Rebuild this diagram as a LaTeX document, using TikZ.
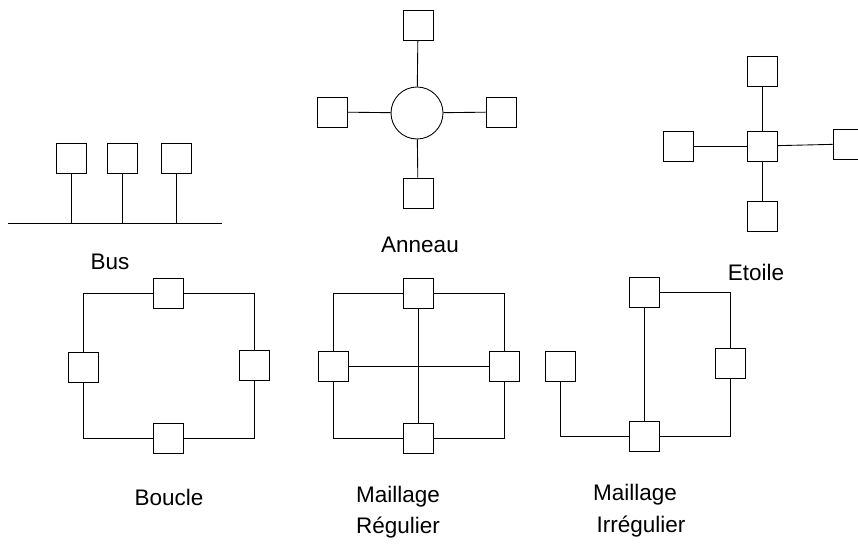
\documentclass[tikz,border=0pt]{standalone}
\usepackage{fontspec}
\setmainfont{Liberation Sans}
\usetikzlibrary{positioning}

\begin{document}
\begin{tikzpicture}[
  x=0.02cm, y=-0.02cm,
  line width=0.5pt,
  stn/.style={draw, minimum size=0.6cm, inner sep=0pt},
  hub/.style={draw, circle, minimum size=1.04cm, inner sep=0pt},
  lbl/.style={font=\fontsize{12.8}{15}\selectfont, inner sep=0pt}
]
\useasboundingbox (0,0) rectangle (858,547);

% Bus
\node[stn] (b1) at (71,158) {};
\node[stn] (b2) at (122,158) {};
\node[stn] (b3) at (176,158) {};
\coordinate (busL) at (8,223);
\coordinate (busR) at (222,223);
\draw (busL) -- (busR);
\draw (b1) -- (b1 |- busL);
\draw (b2) -- (b2 |- busL);
\draw (b3) -- (b3 |- busL);
\node[lbl] (lbus) at (110,262) {Bus};

% Anneau
\node[hub] (ring) at (417,113) {};
\node[stn] (a1) at (418,25) {};
\node[stn] (a2) at (332,112) {};
\node[stn] (a3) at (501,112) {};
\node[stn] (a4) at (418,193) {};
\draw (ring) -- (a1);
\draw (ring) -- (a2);
\draw (ring) -- (a3);
\draw (ring) -- (a4);
\node[lbl] (lann) at (420,245) {Anneau};

% Etoile
\node[stn] (ec) at (762,146) {};
\node[stn] (e1) at (762,71) {};
\node[stn] (e2) at (678,146) {};
\node[stn] (e3) at (848,144) {};
\node[stn] (e4) at (762,216) {};
\draw (ec) -- (e1);
\draw (ec) -- (e2);
\draw (ec) -- (e3);
\draw (ec) -- (e4);
\node[lbl] (leto) at (756,272) {Etoile};

% Boucle
\node[stn] (bt) at (168,293) {};
\node[stn] (bl) at (83,367) {};
\node[stn] (br) at (254,365) {};
\node[stn] (bb) at (168,438) {};
\draw (bt) -| (bl);
\draw (bt) -| (br);
\draw (bb) -| (bl);
\draw (bb) -| (br);
\node[lbl] (lbou) at (169,497) {Boucle};

% Maillage regulier
\node[stn] (mt) at (418,293) {};
\node[stn] (ml) at (333,366) {};
\node[stn] (mr) at (504,366) {};
\node[stn] (mb) at (418,438) {};
\draw (mt) -| (ml);
\draw (mt) -| (mr);
\draw (mb) -| (ml);
\draw (mb) -| (mr);
\draw (mt) -- (mb);
\draw (ml) -- (mr);
\node[lbl] (lmr1) at (398,497) {Maillage};
\node[lbl] (lmr2) at (398,528) {Régulier};

% Maillage irregulier
\node[stn] (it) at (644,292) {};
\node[stn] (il) at (560,366) {};
\node[stn] (ir) at (730,363) {};
\node[stn] (ib) at (644,436) {};
\draw (it) -| (ir);
\draw (ir) |- (ib);
\draw (il) |- (ib);
\draw (it) -- (ib);
\node[lbl] (lmi1) at (635,495) {Maillage};
\node[lbl] (lmi2) at (641,527) {Irrégulier};

\end{tikzpicture}
\end{document}
